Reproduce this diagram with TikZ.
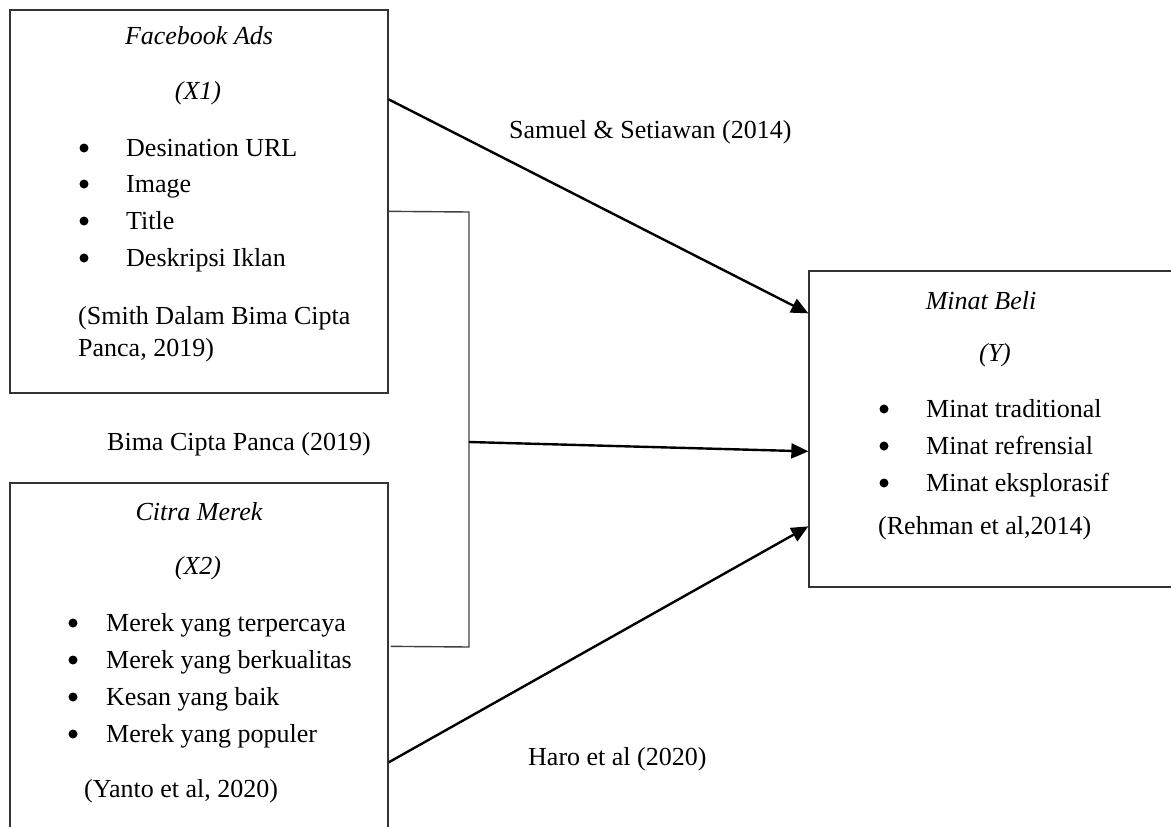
\documentclass[tikz,border=0pt]{standalone}
\usepackage{fontspec}
\setmainfont{Liberation Serif}
\usetikzlibrary{arrows.meta,calc}
\begin{document}
\begin{tikzpicture}[x=1pt,y=-1pt,
  box/.style={draw=black!80, line width=1.3pt, rectangle, inner sep=0},
  txt/.style={inner sep=0, anchor=base west, font=\fontsize{26}{30}\selectfont},
  ttl/.style={inner sep=0, anchor=base, font=\fontsize{26}{30}\selectfont\itshape},
  bul/.style={circle, fill=black, inner sep=0, minimum size=9pt},
  conn/.style={line width=2.4pt, -{Triangle[length=17pt,width=15pt]}},
  brk/.style={draw=black!75, line width=1.4pt}]
\useasboundingbox (0,0) rectangle (1171,827);
\clip (0,0) rectangle (1171,827);
% boxes
\node[box, minimum width=378pt, minimum height=383pt] (x1) at (199,201.5) {};
\node[box, minimum width=378pt, minimum height=400pt] (x2) at (199,683) {};
\node[box, minimum width=400pt, minimum height=316pt] (y) at (1009,429) {};
% box X1 text
\node[ttl] (t1) at (199,44) {Facebook Ads};
\node[ttl] (t1b) at (198,99) {(X1)};
\foreach \yy/\tx [count=\i] in {156/Desination URL,192/Image,229/Title,266/Deskripsi Iklan}{
  \node[bul] (b1\i) at (84,\yy-8) {};
  \node[txt] (l1\i) at (126,\yy) {\tx};
}
\node[txt] (s1a) at (78,324) {(Smith Dalam Bima Cipta};
\node[txt] (s1b) at (78,356) {Panca, 2019)};
% box X2 text
\node[ttl] (t2) at (199,520) {Citra Merek};
\node[ttl] (t2b) at (198,574) {(X2)};
\foreach \yy/\tx [count=\i] in {631/Merek yang terpercaya,668/Merek yang berkualitas,705/Kesan yang baik,742/Merek yang populer}{
  \node[bul] (b2\i) at (73,\yy-8) {};
  \node[txt] (l2\i) at (106,\yy) {\tx};
}
\node[txt] (s2) at (84,797) {(Yanto et al, 2020)};
% box Y text
\node[ttl] (t3) at (981,309) {Minat Beli};
\node[ttl] (t3b) at (995,361) {(Y)};
\foreach \yy/\tx [count=\i] in {417/Minat traditional,454/Minat refrensial,491/Minat eksplorasif}{
  \node[bul] (b3\i) at (884,\yy-8) {};
  \node[txt] (l3\i) at (926,\yy) {\tx};
}
\node[txt] (s3) at (878,534) {(Rehman et al,2014)};
% connector labels
\node[txt] (la) at (509,138) {Samuel \& Setiawan (2014)};
\node[txt] (lb) at (107,450) {Bima Cipta Panca (2019)};
\node[txt] (lc) at (528,765) {Haro et al (2020)};
% bracket
\coordinate (b1) at ($(x1.north east)+(0,202)$);
\coordinate (b2) at (469,212);
\coordinate (jn) at (469,442);
\coordinate (b3) at (469,647);
\coordinate (b4) at ($(x2.north east)+(2,164)$);
\draw[brk] (b1) -- (b2) -- (b3) -- (b4);
% arrows
\draw[conn] ($(x1.north east)+(0,90)$) -- ($(y.north west)+(0,43)$);
\draw[conn] (jn) -- ($(y.north west)+(0,181)$);
\draw[conn] ($(x2.north east)+(0,280)$) -- ($(y.north west)+(0,256)$);
\end{tikzpicture}
\end{document}
